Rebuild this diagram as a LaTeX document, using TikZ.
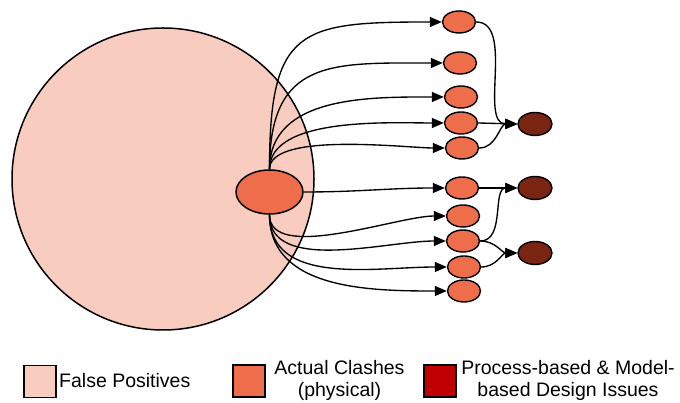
\documentclass[tikz,border=0pt]{standalone}
\usepackage{fontspec}
\setmainfont{Liberation Sans}
\usetikzlibrary{shapes.geometric,arrows.meta}
\definecolor{fpfill}{HTML}{F8CDC0}
\definecolor{acfill}{HTML}{EE6E4C}
\definecolor{dkfill}{HTML}{7A2511}
\definecolor{lgred}{HTML}{C00000}
\tikzset{
  fpnode/.style={circle,draw=black,line width=1.5pt,fill=fpfill,minimum size=302pt,inner sep=0pt},
  bignode/.style={ellipse,draw=black,line width=1.5pt,fill=acfill,minimum width=67pt,minimum height=44pt,inner sep=0pt},
  smallnode/.style={ellipse,draw=black,line width=1.4pt,fill=acfill,minimum width=33pt,minimum height=22pt,inner sep=0pt},
  darknode/.style={ellipse,draw=black,line width=1.4pt,fill=dkfill,minimum width=34pt,minimum height=23pt,inner sep=0pt},
  conn/.style={draw=black,line width=1.35pt,-{Triangle[length=12pt,width=10pt]}},
  legsq/.style={rectangle,draw=black,line width=1.8pt,minimum width=32pt,minimum height=32pt,inner sep=0pt},
  legtxt/.style={font=\fontsize{19.5}{22}\selectfont,inner sep=0pt,align=center}
}
\begin{document}
\begin{tikzpicture}[x=1pt,y=1pt]
\useasboundingbox (0,0) rectangle (680,403);
\node[fpnode] (fp) at (163,224) {};
\node[bignode] (c) at (269.5,211) {};
\node[smallnode] (s1) at (459,381) {};
\node[smallnode] (s2) at (460,340) {};
\node[smallnode] (s3) at (461,306) {};
\node[smallnode] (s4) at (461,280) {};
\node[smallnode] (s5) at (462,255) {};
\node[smallnode] (s6) at (462,215) {};
\node[smallnode] (s7) at (463,187) {};
\node[smallnode] (s8) at (463,162) {};
\node[smallnode] (s9) at (464,136) {};
\node[smallnode] (s10) at (464,112) {};
\node[darknode] (d1) at (535,279) {};
\node[darknode] (d2) at (535,215) {};
\node[darknode] (d3) at (535,150) {};
% from central
\draw[conn] (c.north) to[out=90,in=180,looseness=1.6] (s1.west);
\draw[conn] (c.north) to[out=90,in=180,looseness=1.4] (s2.west);
\draw[conn] (c.north) to[out=90,in=180,looseness=1.0] (s3.west);
\draw[conn] (c.north) to[out=90,in=180,looseness=0.75] (s4.west);
\draw[conn] (c.north) to[out=90,in=180,looseness=0.55] (s5.west);
\draw[conn] (c.east) to[out=0,in=180] (s6.west);
\draw[conn] (c.south) to[out=-90,in=180,looseness=0.7] (s7.west);
\draw[conn] (c.south) to[out=-90,in=180,looseness=0.85] (s8.west);
\draw[conn] (c.south) to[out=-90,in=180] (s9.west);
\draw[conn] (c.south) to[out=-90,in=180] (s10.west);
% to dark
\draw[conn] (s1.east) to[out=0,in=180,looseness=0.9] (d1.west);
\draw[conn] (s4.east) -- (d1.west);
\draw[conn] (s5.east) to[out=0,in=180] (d1.west);
\draw[conn] (s6.east) -- (d2.west);
\draw[conn] (s8.east) to[out=0,in=180] (d2.west);
\draw[conn] (s8.east) to[out=0,in=180] (d3.west);
\draw[conn] (s9.east) to[out=0,in=180] (d3.west);
% legend
\node[legsq,fill=fpfill] (l1) at (40,21.5) {};
\node[legtxt,anchor=west] (t1) at (59,22) {False Positives};
\node[legsq,fill=acfill] (l2) at (249,22) {};
\node[legtxt] (t2) at (339.5,23) {Actual Clashes\\(physical)};
\node[legsq,fill=lgred] (l3) at (440,22) {};
\node[legtxt] (t3) at (568,23) {Process-based \& Model-\\based Design Issues};
\end{tikzpicture}
\end{document}
